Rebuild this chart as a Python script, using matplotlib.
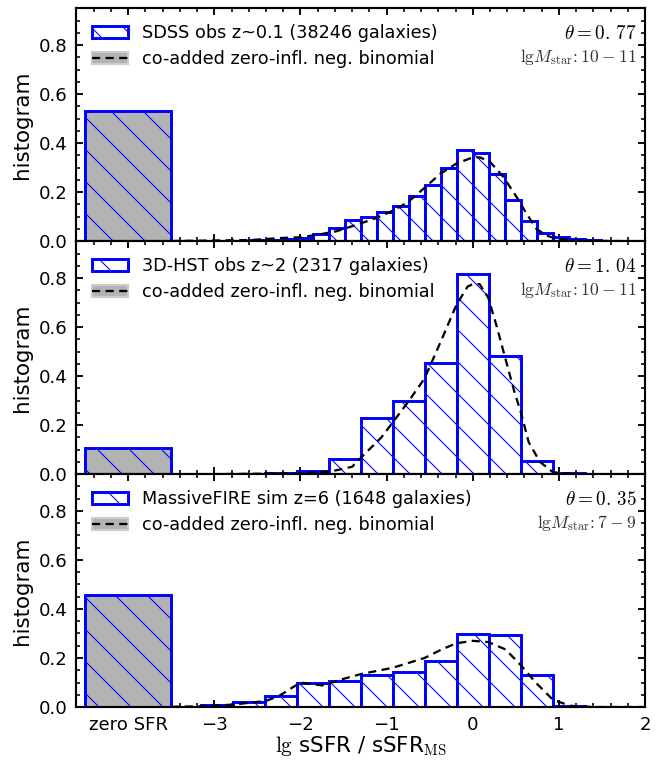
import numpy as np
import matplotlib
matplotlib.use('Agg')
import matplotlib.pyplot as plt
from matplotlib.patches import Patch
from matplotlib.lines import Line2D

# panel labels / annotations
labels = ['SDSS obs z~0.1 (38246 galaxies)',
          '3D-HST obs z~2 (2317 galaxies)',
          'MassiveFIRE sim z=6 (1648 galaxies)']
thetas = ['0.77', '1.04', '0.35']
mass_ranges = ['10-11', '10-11', '7-9']

# fraction with zero SFR (bar drawn at x=-4)
zero_frac = [0.532, 0.105, 0.457]

# histograms: first bin left edge, bin width, heights
sdss_lo, sdss_w = -3.53, 0.186
sdss_h = [0.001, 0.002, 0.002, 0.003, 0.003, 0.004, 0.005, 0.008,
          0.014, 0.030, 0.053, 0.088, 0.100, 0.120, 0.143, 0.184,
          0.228, 0.300, 0.372, 0.358, 0.276, 0.167, 0.084, 0.032,
          0.016, 0.008, 0.005, 0.002, 0.001, 0.001]

hst_lo, hst_w = -3.53, 0.372
hst_h = [0.001, 0.001, 0.002, 0.003, 0.011, 0.061, 0.229, 0.297,
         0.455, 0.817, 0.482, 0.055, 0.003, 0.001]

fire_lo, fire_w = -3.53, 0.372
fire_h = [0.002, 0.010, 0.019, 0.045, 0.100, 0.105, 0.130, 0.143,
          0.188, 0.296, 0.293, 0.130, 0.004, 0.001, 0.001]

# co-added zero-inflated negative binomial curves
sdss_fx = [-3.5, -3.0, -2.58, -2.19, -2.0, -1.81, -1.58, -1.34, -1.11, -0.92,
           -0.75, -0.57, -0.38, -0.19, 0.0, 0.085, 0.2, 0.355, 0.51, 0.625,
           0.74, 0.86, 0.97, 1.28, 2.0]
sdss_fy = [0.001, 0.003, 0.005, 0.014, 0.016, 0.026, 0.041, 0.068, 0.096, 0.126,
           0.160, 0.215, 0.274, 0.317, 0.342, 0.342, 0.324, 0.263, 0.180, 0.112,
           0.050, 0.023, 0.010, 0.002, 0.0]

hst_fx = [-3.5, -3.04, -2.05, -1.66, -1.40, -1.29, -1.06, -0.76, -0.56, -0.36,
          -0.19, -0.06, 0.0, 0.08, 0.18, 0.28, 0.38, 0.48, 0.56, 0.65, 0.78,
          0.93, 1.18, 2.0]
hst_fy = [0.0, 0.0, 0.003, 0.010, 0.030, 0.070, 0.150, 0.290, 0.390, 0.550,
          0.690, 0.765, 0.775, 0.775, 0.720, 0.600, 0.470, 0.340, 0.250, 0.130,
          0.050, 0.008, 0.0, 0.0]

fire_fx = [-3.5, -3.15, -2.78, -2.4, -2.25, -2.0, -1.75, -1.5, -1.29, -0.93,
           -0.56, -0.36, -0.19, 0.0, 0.18, 0.38, 0.56, 0.73, 0.93, 1.13, 1.4, 2.0]
fire_fy = [0.001, 0.003, 0.010, 0.025, 0.045, 0.100, 0.088, 0.115, 0.135, 0.160,
           0.200, 0.235, 0.260, 0.270, 0.265, 0.235, 0.170, 0.100, 0.030, 0.005,
           0.0, 0.0]

hists = [(sdss_lo, sdss_w, sdss_h), (hst_lo, hst_w, hst_h), (fire_lo, fire_w, fire_h)]
fits = [(sdss_fx, sdss_fy), (hst_fx, hst_fy), (fire_fx, fire_fy)]

DPI = 192
plt.rcParams['mathtext.fontset'] = 'cm'
plt.rcParams['hatch.linewidth'] = 0.4
plt.rcParams['font.size'] = 6.8
for a in ('xtick', 'ytick'):
    plt.rcParams[a + '.direction'] = 'in'
    plt.rcParams[a + '.major.size'] = 2.6
    plt.rcParams[a + '.minor.size'] = 1.4
    plt.rcParams[a + '.major.width'] = 0.7
    plt.rcParams[a + '.minor.width'] = 0.6
    plt.rcParams[a + '.labelsize'] = 6.8
plt.rcParams['xtick.top'] = True
plt.rcParams['ytick.right'] = True
plt.rcParams['axes.linewidth'] = 0.8

blue = '#0000ff'
grey = '#b3b3b3'
hatch = '\\\\'

fig, axes = plt.subplots(3, 1, sharex=True, figsize=(665 / DPI, 760 / DPI), dpi=DPI)
fig.subplots_adjust(left=0.115, right=0.970, top=0.989, bottom=0.0697, hspace=0)

for i, ax in enumerate(axes):
    lo, w, h = hists[i]
    centers = lo + w / 2 + w * np.arange(len(h))
    ax.bar(-4, zero_frac[i], width=1.0, facecolor=grey, edgecolor=blue,
           hatch=hatch, lw=1.1, zorder=2)
    ax.bar(centers, h, width=w, facecolor='white', edgecolor=blue,
           hatch=hatch, lw=1.1, zorder=2)
    fx, fy = fits[i]
    ax.plot(fx, fy, color='k', ls=(0, (3.6, 2.4)), lw=0.85, zorder=3)

    h1 = Patch(facecolor='white', edgecolor=blue, hatch=hatch, lw=1.1)
    h2 = (Patch(facecolor=grey, edgecolor='#cccccc', lw=0.8),
          Line2D([], [], color='k', ls=(0, (3.6, 2.4)), lw=0.85))
    ax.legend([h1, h2], [labels[i], 'co-added zero-infl. neg. binomial'],
              loc='upper left', frameon=False, fontsize=6.6,
              handlelength=2.0, handleheight=0.7, handletextpad=0.8,
              labelspacing=0.45)

    ax.text(0.985, 0.89, r'$\theta=%s$' % thetas[i].replace('.', r'.\,'),
            transform=ax.transAxes, ha='right', va='center', fontsize=7.2)
    ax.text(0.985, 0.79, r'$\mathrm{lg}M_{\mathrm{star}}\!:%s$' % mass_ranges[i].replace('-', ' - '),
            transform=ax.transAxes, ha='right', va='center', fontsize=6.6, color='#333333')

    ax.set_xlim(-4.6, 2)
    ax.set_ylim(0, 0.95)
    ax.set_yticks([0.0, 0.2, 0.4, 0.6, 0.8])
    ax.set_yticks(np.arange(0, 0.95, 0.05), minor=True)
    ax.set_xticks(np.arange(-4.6, 2.01, 0.2), minor=True)
    ax.set_ylabel('histogram', fontsize=8.0, labelpad=2.5)

axes[-1].set_xticks([-4, -3, -2, -1, 0, 1, 2])
axes[-1].set_xticklabels(['zero SFR', '\u22123', '\u22122', '\u22121', '0', '1', '2'])
axes[-1].set_xlabel(r'$\mathrm{lg}$ sSFR / sSFR$_\mathrm{MS}$', fontsize=8.0, labelpad=0)

fig.savefig('out.png', dpi=DPI)
